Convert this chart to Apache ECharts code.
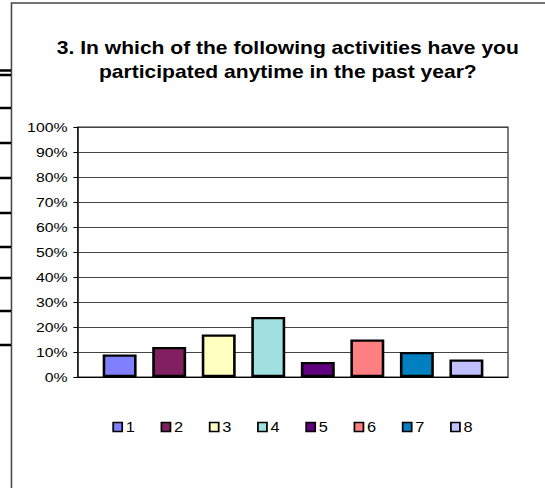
<!DOCTYPE html>
<html>
<head>
<meta charset="utf-8">
<script src="https://cdn.jsdelivr.net/npm/echarts@6/dist/echarts.min.js"></script>
<style>
html,body{margin:0;padding:0;background:#fff;overflow:hidden}
/* the source picture is stretched sideways, so the chart is drawn narrower and stretched */
#chart{width:466px;height:488px;transform:scaleX(1.17);transform-origin:0 0}
</style>
</head>
<body>
<div id="chart"></div>
<script>
var titleText = '3. In which of the following activities have you\nparticipated anytime in the past year?'
var seriesNames = ['1','2','3','4','5','6','7','8']
var values = [9, 12, 17, 24, 6, 15, 10, 7]
var colors = ['#8080FF','#802060','#FFFFC0','#A0E0E0','#600080','#FF8080','#0080C0','#C0C0FF']
var yTicks = [0,10,20,30,40,50,60,70,80,90,100]

// stubs of the table lines behind the chart frame
var stubY = [70.5, 75, 108, 143, 178, 213, 247, 278, 311, 345]

var chart = echarts.init(document.getElementById('chart'), null, {renderer: 'svg'})

var series = seriesNames.map(function(n, i){
  return {
    name: n,
    type: 'bar',
    barWidth: 29,
    barGap: '46%',
    data: [values[i]],
    itemStyle: {color: colors[i], borderColor: '#000', borderWidth: 2.2},
    emphasis: {disabled: true}
  }
})

var graphics = [{
  type: 'rect',
  shape: {x: 9.8, y: 3, width: 600, height: 520},
  style: {fill: 'none', stroke: '#444', lineWidth: 1.3},
  silent: true
}, {
  type: 'rect',
  shape: {x: 66.7, y: 127, width: 367.5, height: 250},
  style: {fill: 'none', stroke: '#222', lineWidth: 1},
  silent: true, z: -1
}]
stubY.forEach(function(y){
  graphics.push({
    type: 'line',
    shape: {x1: 0, y1: y, x2: 9.4, y2: y},
    style: {stroke: '#000', lineWidth: 2.5},
    silent: true
  })
})

chart.setOption({
  animation: false,
  textStyle: {fontFamily: 'Liberation Sans, Arial, sans-serif'},
  title: {
    text: titleText,
    left: 241,
    textAlign: 'center',
    top: 31,
    textStyle: {fontSize: 18, fontWeight: 'bold', color: '#000', lineHeight: 24}
  },
  graphic: graphics,
  grid: {left: 66.7, right: 31.8, top: 127, bottom: 111, containLabel: false},
  legend: {
    data: seriesNames,
    left: 91,
    top: 415,
    icon: 'rect',
    itemWidth: 7.7,
    itemHeight: 9,
    itemGap: 22,
    itemStyle: {borderWidth: 1.5, borderColor: '#000'},
    textStyle: {fontSize: 14, color: '#000', padding: [0,0,0,-2]},
    selectedMode: false
  },
  xAxis: {
    type: 'category',
    data: [''],
    axisLine: {lineStyle: {color: '#000', width: 1}},
    axisTick: {show: false},
    axisLabel: {show: false}
  },
  yAxis: {
    type: 'value',
    min: yTicks[0],
    max: yTicks[yTicks.length - 1],
    interval: 10,
    axisLine: {show: true, lineStyle: {color: '#000', width: 1}},
    axisTick: {show: true, length: 4, lineStyle: {color: '#000'}},
    axisLabel: {formatter: '{value}%', fontSize: 13.5, color: '#000', margin: 9},
    splitLine: {lineStyle: {color: '#444', width: 1}}
  },
  series: series
})
</script>
</body>
</html>
